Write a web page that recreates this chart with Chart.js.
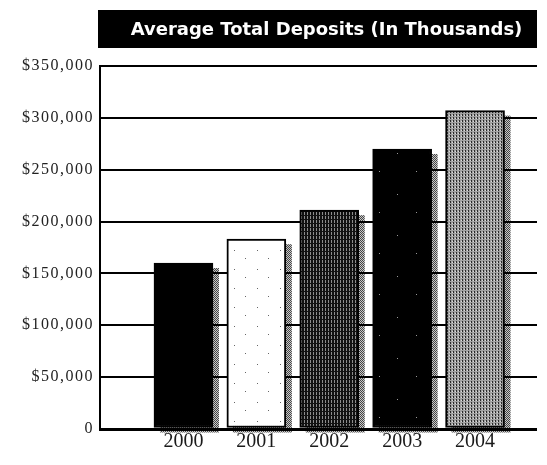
<!DOCTYPE html>
<html>
<head>
<meta charset="utf-8">
<script src="https://cdn.jsdelivr.net/npm/chart.js@4"></script>
<style>
  html, body { margin: 0; padding: 0; background: #fff; }
  #wrap { width: 547px; height: 465px; }
</style>
</head>
<body>
<div id="wrap"><canvas id="c" width="547" height="465"></canvas></div>
<script>
// Chart content
const TITLE = 'Average Total Deposits (In Thousands)';
const years = ['2000', '2001', '2002', '2003', '2004'];
const deposits = [160000, 183000, 211000, 270000, 307000];
const yMax = 350000;
const yStep = 50000;

// Small repeating textures used as bar fills
function makePattern(w, h, paint) {
  const cv = document.createElement('canvas');
  cv.width = w; cv.height = h;
  const g = cv.getContext('2d');
  paint(g);
  return g.createPattern(cv, 'repeat');
}
const solidBlack = '#000';
const dottedWhite = makePattern(23, 19, g => {
  g.fillStyle = '#fff'; g.fillRect(0, 0, 23, 19);
  g.fillStyle = '#666';
  g.fillRect(4, 3, 1, 1); g.fillRect(15, 11, 1, 1);
});
const darkHatch = makePattern(3, 4, g => {
  g.fillStyle = '#111'; g.fillRect(0, 0, 3, 4);
  g.fillStyle = '#8c8c8c'; g.fillRect(1, 0, 1, 3);
});
const speckBlack = makePattern(37, 41, g => {
  g.fillStyle = '#000'; g.fillRect(0, 0, 37, 41);
  g.fillStyle = '#999';
  g.fillRect(9, 7, 1, 1); g.fillRect(27, 30, 1, 1);
});
const greyHatch = makePattern(3, 3, g => {
  g.fillStyle = '#a2a2a2'; g.fillRect(0, 0, 3, 3);
  g.fillStyle = '#2a2a2a'; g.fillRect(0, 0, 1, 2);
  g.fillStyle = '#dcdcdc'; g.fillRect(2, 1, 1, 1);
});
const barFills = [solidBlack, dottedWhite, darkHatch, speckBlack, greyHatch];
const shadowFill = makePattern(2, 2, g => {
  g.fillStyle = '#c8c8c8'; g.fillRect(0, 0, 2, 2);
  g.fillStyle = '#444'; g.fillRect(0, 0, 1, 1); g.fillRect(1, 1, 1, 1);
});

// Black heading band above the plot
const titleBox = {
  id: 'titleBox',
  afterDraw(chart) {
    const ctx = chart.ctx;
    const { left, right } = chart.chartArea;
    const x0 = left - 2, top = 10, h = 38;
    ctx.save();
    ctx.letterSpacing = '0px';
    ctx.fillStyle = '#000';
    ctx.fillRect(x0, top, right - x0, h);
    ctx.fillStyle = '#fff';
    ctx.font = 'bold 18px "DejaVu Sans", sans-serif';
    ctx.textAlign = 'center';
    ctx.textBaseline = 'middle';
    ctx.fillText(TITLE, (x0 + right) / 2 + 9, top + h / 2 + 1);
    ctx.restore();
  }
};

// Offset stippled shadow behind each bar, placed from the bar elements
const barShadow = {
  id: 'barShadow',
  beforeDraw(chart) {
    const ctx = chart.ctx;
    const meta = chart.getDatasetMeta(0);
    ctx.save();
    ctx.fillStyle = shadowFill;
    meta.data.forEach(bar => {
      const p = bar.getProps(['x', 'y', 'base', 'width'], true);
      ctx.fillRect(p.x - p.width / 2 + 6, p.y + 5, p.width, p.base - p.y);
    });
    ctx.restore();
  }
};

// Wider tracking for the value-axis labels
const valueLabelSpacing = {
  id: 'valueLabelSpacing',
  beforeDraw(chart) {
    const y = chart.scales.y;
    if (y && !y._spaced) {
      const orig = y.drawLabels.bind(y);
      y.drawLabels = function (area) {
        const ctx = chart.ctx;
        ctx.save();
        ctx.letterSpacing = '1.5px';
        orig(area);
        ctx.restore();
      };
      y._spaced = true;
    }
  }
};

new Chart(document.getElementById('c'), {
  type: 'bar',
  data: {
    datasets: [{
      data: deposits.map((v, i) => ({ x: i, y: v })),
      backgroundColor: barFills,
      borderColor: '#000',
      borderWidth: 2,
      borderSkipped: false,
      barThickness: 59,
      clip: false
    }]
  },
  options: {
    responsive: false,
    animation: false,
    events: [],
    layout: { padding: { top: 66, right: 10, left: 0, bottom: 0 } },
    plugins: {
      legend: { display: false },
      tooltip: { enabled: false },
      title: { display: false }
    },
    scales: {
      x: {
        type: 'linear',
        offset: false,
        min: -1.145,
        max: 4.85,
        afterBuildTicks(scale) {
          scale.ticks = years.map((_, i) => ({ value: i }));
        },
        afterFit(scale) { scale.height = 36; },
        grid: { display: false, drawTicks: false },
        border: { display: false },
        ticks: {
          autoSkip: false,
          maxRotation: 0,
          padding: 1,
          color: '#1a1a1a',
          font: { family: '"Liberation Serif", "Times New Roman", serif', size: 20 },
          callback: v => years[v]
        }
      },
      y: {
        min: 0,
        max: yMax,
        afterFit(scale) { scale.width = 100; },
        grid: {
          color: '#000',
          lineWidth: c => (c.tick && c.tick.value === 0 ? 3 : 2),
          drawTicks: false
        },
        border: { display: true, color: '#000', width: 2 },
        ticks: {
          stepSize: yStep,
          padding: 6,
          color: '#222',
          font: { family: '"Liberation Serif", "Times New Roman", serif', size: 16 },
          callback: v => (v === 0 ? '0' : '$' + v.toLocaleString('en-US'))
        }
      }
    }
  },
  plugins: [barShadow, valueLabelSpacing, titleBox]
});
</script>
</body>
</html>
